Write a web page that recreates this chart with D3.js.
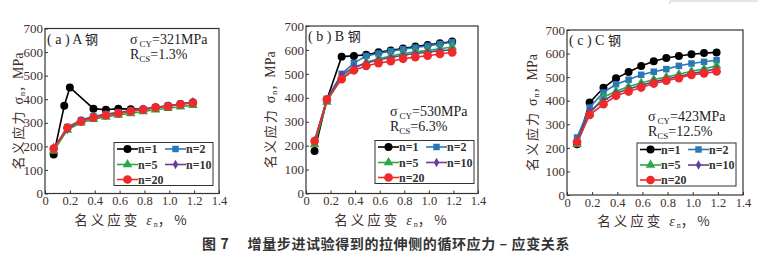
<!DOCTYPE html>
<html>
<head>
  <meta charset="utf-8">
  <title>增量步进试验 循环应力-应变</title>
  <script src="https://d3js.org/d3.v7.min.js"></script>
  <style>
    body { margin: 0; background: #fff; }
    svg { display: block; }
  </style>
</head>
<body>
  <div id="chart"></div>

  <script>
    // series labels and x tick values
    var seriesNames = ["n=1", "n=2", "n=5", "n=10", "n=20"];
    var xTicks = [0, 0.2, 0.4, 0.6, 0.8, 1.0, 1.2, 1.4];
    var yTicks = [0, 100, 200, 300, 400, 500, 600, 700];

    // (a) A 钢
    var strainA = [0.07, 0.18, 0.29, 0.39, 0.49, 0.59, 0.69, 0.79, 0.89, 0.99, 1.09, 1.19];
    var strainA1 = [0.07, 0.155, 0.2, 0.39, 0.49, 0.59, 0.69, 0.79, 0.89, 0.99, 1.09, 1.19];
    var a1 = [165, 372, 450, 360, 355, 360, 358, 358, 365, 372, 380, 386];
    var a2 = [190, 282, 312, 328, 337, 345, 352, 358, 366, 372, 380, 388];
    var a5 = [180, 270, 300, 315, 325, 333, 340, 348, 355, 362, 368, 375];
    var a10 = [195, 272, 310, 322, 333, 342, 350, 357, 364, 371, 379, 389];
    var a20 = [190, 279, 305, 322, 332, 340, 349, 356, 365, 370, 378, 384];

    // (b) B 钢
    var strainB = [0.07, 0.17, 0.29, 0.39, 0.49, 0.59, 0.69, 0.79, 0.89, 0.99, 1.09, 1.19];
    var b1 = [178, 392, 572, 575, 580, 590, 598, 606, 614, 621, 628, 635];
    var b2 = [215, 396, 500, 545, 575, 585, 595, 603, 610, 617, 625, 632];
    var b5 = [205, 383, 485, 522, 548, 563, 575, 585, 592, 598, 605, 612];
    var b10 = [222, 392, 495, 528, 545, 558, 568, 578, 585, 591, 597, 600];
    var b20 = [219, 392, 478, 515, 533, 545, 553, 563, 570, 576, 583, 590];

    // (c) C 钢
    var strainC = [0.08, 0.18, 0.29, 0.39, 0.49, 0.59, 0.69, 0.79, 0.89, 0.99, 1.09, 1.19];
    var c1 = [215, 392, 455, 495, 522, 547, 567, 581, 590, 597, 602, 605];
    var c2 = [244, 371, 435, 470, 489, 510, 523, 534, 548, 558, 565, 572];
    var c5 = [215, 345, 415, 440, 460, 475, 490, 500, 512, 525, 535, 548];
    var c10 = [230, 355, 400, 432, 450, 466, 480, 492, 503, 515, 525, 535];
    var c20 = [225, 340, 385, 421, 439, 456, 473, 485, 496, 510, 516, 524];

    var colors = ["#000000", "#2878b8", "#2ca84a", "#6a3d9a", "#ee2a2a"];
    var symbols = [d3.symbolCircle, d3.symbolSquare, d3.symbolTriangle, d3.symbolDiamond, d3.symbolCircle];
    var symSizes = [50, 42, 40, 26, 60];

    var serif = "'Liberation Serif', 'DejaVu Serif', serif";
    var cjk = "'Noto Sans CJK SC', sans-serif";
    var textColor = "#3f2f2a";

    var W = 758, H = 262;
    var svg = d3.select("#chart").append("svg")
      .attr("width", W).attr("height", H);

    function zip(xs, ys) {
      return xs.map(function(x, i) { return [x, ys[i]]; });
    }

    var panels = [
      {
        title: "( a ) A ", x0: 45, x1: 219, yTop: 28.5, yBot: 193.5, yLabelX: 18,
        series: [zip(strainA1, a1), zip(strainA, a2), zip(strainA, a5), zip(strainA, a10), zip(strainA, a20)],
        cy: "=321MPa", rcs: "=1.3%", annX: 130, annY: 44,
        legX: 114, legY: 142.5
      },
      {
        title: "( b ) B ", x0: 306, x1: 478, yTop: 26, yBot: 193.5, yLabelX: 270,
        series: [zip(strainB, b1), zip(strainB, b2), zip(strainB, b5), zip(strainB, b10), zip(strainB, b20)],
        cy: "=530MPa", rcs: "=6.3%", annX: 390, annY: 116,
        legX: 375, legY: 140.5
      },
      {
        title: "( c ) C ", x0: 567, x1: 743, yTop: 30, yBot: 195, yLabelX: 532,
        series: [zip(strainC, c1), zip(strainC, c2), zip(strainC, c5), zip(strainC, c10), zip(strainC, c20)],
        cy: "=423MPa", rcs: "=12.5%", annX: 648, annY: 121,
        legX: 637, legY: 143
      }
    ];

    panels.forEach(function(p) {
      var x = d3.scaleLinear().domain([0, 1.4]).range([p.x0, p.x1]);
      var y = d3.scaleLinear().domain([0, 700]).range([p.yBot, p.yTop]);
      var g = svg.append("g");

      // y axis, ticks pointing inward
      var yAxis = g.append("g")
        .attr("transform", "translate(" + p.x0 + ",0)")
        .call(d3.axisLeft(y).tickValues(yTicks).tickSize(-3).tickPadding(2));
      yAxis.select(".domain").remove();
      yAxis.selectAll("line").attr("stroke", "#333");
      yAxis.selectAll("text")
        .attr("font-family", serif).attr("font-size", 13).attr("fill", textColor);

      // x axis
      var xAxis = g.append("g")
        .attr("transform", "translate(0," + p.yBot + ")")
        .call(d3.axisBottom(x).tickValues(xTicks).tickSize(-3).tickPadding(3)
          .tickFormat(function(d) { return d === 0 ? "0" : d3.format(".1f")(d); }));
      xAxis.select(".domain").remove();
      xAxis.selectAll("line").attr("stroke", "#333");
      xAxis.selectAll("text")
        .attr("font-family", serif).attr("font-size", 12.5).attr("fill", textColor);

      // frame
      g.append("rect")
        .attr("x", p.x0).attr("y", p.yTop)
        .attr("width", p.x1 - p.x0).attr("height", p.yBot - p.yTop)
        .attr("fill", "none").attr("stroke", "#333").attr("stroke-width", 1.2);

      // series
      var line = d3.line().x(function(d) { return x(d[0]); }).y(function(d) { return y(d[1]); });
      p.series.forEach(function(pts, i) {
        g.append("path")
          .datum(pts)
          .attr("d", line)
          .attr("fill", "none")
          .attr("stroke", colors[i])
          .attr("stroke-width", 1.6);
        g.selectAll(null)
          .data(pts)
          .enter().append("path")
          .attr("transform", function(d) { return "translate(" + x(d[0]) + "," + y(d[1]) + ")"; })
          .attr("d", d3.symbol().type(symbols[i]).size(symSizes[i]))
          .attr("fill", colors[i]);
      });

      // panel title
      var t = g.append("text")
        .attr("x", p.x0 + 2).attr("y", p.yTop + 15)
        .attr("font-family", serif).attr("font-size", 14).attr("fill", "#222");
      t.append("tspan").text(p.title);
      t.append("tspan").attr("font-family", cjk).attr("font-size", 13).text("钢");

      // sigma_CY and R_CS annotation
      var s1 = g.append("text")
        .attr("x", p.annX).attr("y", p.annY)
        .attr("font-family", serif).attr("font-size", 14).attr("fill", "#222");
      s1.append("tspan").text("σ");
      s1.append("tspan").attr("font-size", 9).attr("dy", 3).attr("dx", 2).text("CY");
      s1.append("tspan").attr("dy", -3).text(p.cy);
      var s2 = g.append("text")
        .attr("x", p.annX).attr("y", p.annY + 15)
        .attr("font-family", serif).attr("font-size", 14).attr("fill", "#222");
      s2.append("tspan").text("R");
      s2.append("tspan").attr("font-size", 9).attr("dy", 3).text("CS");
      s2.append("tspan").attr("dy", -3).text(p.rcs);

      // legend
      var leg = g.append("g").attr("transform", "translate(" + p.legX + "," + p.legY + ")");
      leg.append("rect")
        .attr("width", 99).attr("height", 43)
        .attr("fill", "#fff").attr("stroke", "#333").attr("stroke-width", 1);
      var slots = [[0, 6.5], [48, 6.5], [0, 22], [48, 22], [0, 37]];
      seriesNames.forEach(function(name, i) {
        var it = leg.append("g").attr("transform", "translate(" + slots[i][0] + "," + slots[i][1] + ")");
        it.append("line")
          .attr("x1", 3).attr("x2", 24).attr("y1", 0).attr("y2", 0)
          .attr("stroke", colors[i]).attr("stroke-width", 1.6);
        it.append("path")
          .attr("transform", "translate(13.5,0)")
          .attr("d", d3.symbol().type(symbols[i]).size(symSizes[i]))
          .attr("fill", colors[i]);
        it.append("text")
          .attr("x", 24).attr("y", 4)
          .attr("font-family", serif).attr("font-size", 12).attr("font-weight", "bold")
          .attr("fill", "#333")
          .text(name);
      });

      // x axis title
      var xt = g.append("text")
        .attr("x", (p.x0 + p.x1) / 2).attr("y", p.yBot + 31)
        .attr("text-anchor", "middle")
        .attr("font-family", cjk).attr("font-size", 13.5).attr("fill", textColor);
      xt.append("tspan").attr("letter-spacing", 3).text("名义应变 ");
      xt.append("tspan").attr("font-family", serif).attr("font-style", "italic").attr("font-size", 14).text("ε");
      xt.append("tspan").attr("font-family", serif).attr("font-size", 8).attr("dy", 2).attr("dx", 2).text("n");
      xt.append("tspan").attr("dy", -2).attr("letter-spacing", 3).text("，%");

      // y axis title
      var cyMid = (p.yTop + p.yBot) / 2;
      var yt = g.append("text")
        .attr("transform", "translate(" + (p.yLabelX + 5) + "," + cyMid + ") rotate(-90)")
        .attr("text-anchor", "middle")
        .attr("font-family", cjk).attr("font-size", 13).attr("fill", textColor);
      yt.append("tspan").attr("letter-spacing", 2).text("名义应力 ");
      yt.append("tspan").attr("font-family", serif).attr("font-size", 14).text("σ");
      yt.append("tspan").attr("font-family", serif).attr("font-size", 8).attr("dy", 2).attr("dx", 1).text("n");
      yt.append("tspan").attr("dy", -2).text("，");
      yt.append("tspan").attr("font-family", serif).attr("font-size", 14).text("MPa");
    });

    // faint scan artefact in the top right corner
    svg.append("path")
      .attr("d", "M670,4 L670,1 L758,1")
      .attr("fill", "none").attr("stroke", "#ccc").attr("stroke-width", 1);

    // caption
    var cap = svg.append("text")
      .attr("x", 386).attr("y", 249)
      .attr("text-anchor", "middle")
      .attr("font-family", cjk).attr("font-size", 14).attr("font-weight", "bold")
      .attr("letter-spacing", 0.6)
      .attr("fill", "#333")
      .attr("xml:space", "preserve");
    cap.text("图 7　 增量步进试验得到的拉伸侧的循环应力 – 应变关系");
  </script>
</body>
</html>
